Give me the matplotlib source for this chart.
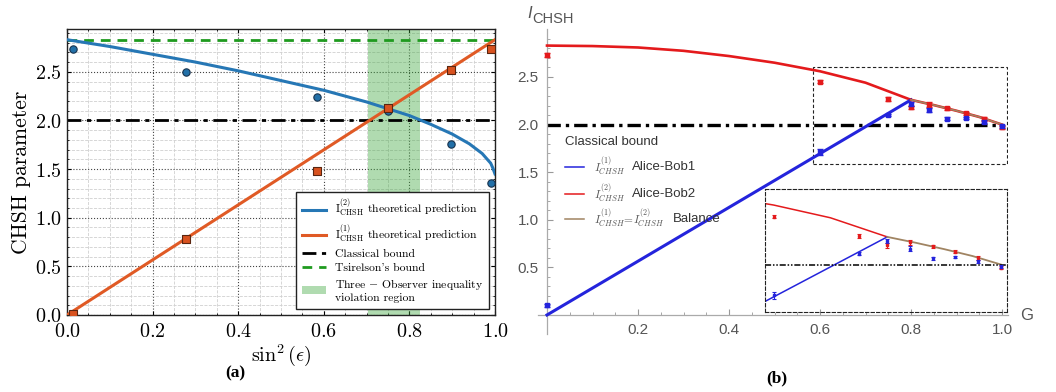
import matplotlib
matplotlib.use("Agg")
import matplotlib.pyplot as plt
from matplotlib.lines import Line2D
from matplotlib.patches import Rectangle
from matplotlib.ticker import FuncFormatter, MultipleLocator, FixedLocator

# ============= Data: panel (a) ===================

sin2_theory = [0, 0.1, 0.2, 0.3, 0.4, 0.5, 0.6, 0.7, 0.8, 0.85, 0.9, 0.94, 0.97, 0.99, 0.995, 1.0]
I2_theory = [2.83, 2.76, 2.68, 2.60, 2.51, 2.41, 2.31, 2.19, 2.05, 1.96, 1.86, 1.76, 1.66, 1.56, 1.51, 1.45]
sin2_line = [0, 1.0]
I1_theory = [0, 2.83]

sin2_meas = [0.013, 0.277, 0.585, 0.75, 0.898, 0.99]
I2_meas = [2.73, 2.50, 2.24, 2.10, 1.76, 1.36]
I1_meas = [0.01, 0.78, 1.48, 2.13, 2.52, 2.73]

classical = 2.0
tsirelson = 2.83
region = [0.704, 0.825]

# ============= Data: panel (b) ===================

G_red = [0, 0.1, 0.2, 0.3, 0.4, 0.5, 0.6, 0.7, 0.8]
I_red = [2.83, 2.825, 2.81, 2.775, 2.72, 2.65, 2.56, 2.44, 2.26]
G_blue = [0, 0.8]
I_blue = [0, 2.26]
G_bal = [0.8, 0.85, 0.9, 0.95, 1.0]
I_bal = [2.26, 2.205, 2.145, 2.08, 2.0]

G_pts = [0, 0.6, 0.75, 0.8, 0.84, 0.88, 0.92, 0.96, 1.0]
I1_pts = [0.10, 1.71, 2.10, 2.22, 2.15, 2.06, 2.07, 2.03, 1.98]
I1_err = [0.02, 0.03, 0.015, 0.02, 0.02, 0.015, 0.01, 0.015, 0.015]
I2_pts = [2.73, 2.45, 2.27, 2.18, 2.21, 2.17, 2.12, 2.06, 1.97]
I2_err = [0.02, 0.015, 0.02, 0.02, 0.025, 0.015, 0.015, 0.02, 0.015]

# ============= Style ===================

plt.rcParams['mathtext.fontset'] = 'cm'
plt.rcParams['axes.unicode_minus'] = False

W, H = 1056, 392
fig = plt.figure(figsize=(W / 100, H / 100), dpi=100)

def px(x0, y0, x1, y1):
    # pixel box (top-left origin) -> figure fraction rect
    return [x0 / W, 1 - y1 / H, (x1 - x0) / W, (y1 - y0) / H]

c_blue = '#2677b5'
c_orange = '#e05a25'
c_green = '#1f9a1f'

# ============= Panel (a) ===================

ax = fig.add_axes(px(67, 29, 495, 315))
ax.plot(sin2_theory, I2_theory, color=c_blue, lw=2.2, zorder=3,
        label=r'$\mathrm{I}^{(2)}_{\mathrm{CHSH}}$ theoretical prediction')
ax.plot(sin2_line, I1_theory, color=c_orange, lw=2.2, zorder=3,
        label=r'$\mathrm{I}^{(1)}_{\mathrm{CHSH}}$ theoretical prediction')
ax.axhline(classical, color='black', lw=2, ls=(0, (5, 2, 1.5, 2)), zorder=2,
           label='Classical bound')
ax.axhline(tsirelson, color=c_green, lw=2, ls=(0, (3.5, 2.5)), zorder=2,
           label="Tsirelson's bound")
ax.axvspan(region[0], region[1], color='#3aa63a', alpha=0.4, lw=0, zorder=1,
           label=r'Three $-$ Observer inequality' + '\nviolation region')
ax.scatter(sin2_meas, I2_meas, marker='o', s=28, color='#2270a8',
           edgecolor='#17324d', lw=0.8, zorder=4)
ax.scatter(sin2_meas, I1_meas, marker='s', s=28, color='#d8521f',
           edgecolor='#5a2510', lw=0.8, zorder=4)

ax.set_xlim(0, 1.0)
ax.set_ylim(0, 2.94)
ax.xaxis.set_major_locator(MultipleLocator(0.2))
ax.xaxis.set_minor_locator(MultipleLocator(0.05))
ax.yaxis.set_major_locator(MultipleLocator(0.5))
ax.yaxis.set_minor_locator(MultipleLocator(0.1))
fmt = FuncFormatter(lambda v, p: f'${v:.1f}$')
ax.xaxis.set_major_formatter(fmt)
ax.yaxis.set_major_formatter(fmt)
ax.tick_params(which='both', direction='in', top=True, right=True, labelsize=14.5)
ax.tick_params(which='major', length=3, width=0.8)
ax.tick_params(axis='x', pad=5)
ax.tick_params(which='minor', length=1.5, width=0.6)
ax.grid(which='major', color='#444444', ls=':', lw=0.8)
ax.grid(which='minor', color='#d0d0d0', ls='--', lw=0.6)
ax.set_axisbelow(True)
for s in ax.spines.values():
    s.set_linewidth(1.0)
    s.set_color('#222222')
ax.set_ylabel('CHSH parameter', family='cmr10', fontsize=15.5, labelpad=3)
ax.set_xlabel(r'$\sin^2(\epsilon)$', fontsize=14.5, labelpad=1)

leg = ax.legend(loc='lower right', prop={'family': 'cmr10', 'size': 8.4},
                fancybox=False, framealpha=1, edgecolor='#222222',
                handlelength=2.0, borderaxespad=0.5, labelspacing=0.33,
                borderpad=0.5)
leg.get_frame().set_linewidth(1.0)

fig.text(235 / W, 1 - 373 / H, '(a)', family='Liberation Serif', weight='bold',
         fontsize=12.5, ha='center', va='center')

# ============= Panel (b) ===================

gray = '#999999'
c_red = '#e41a1c'
c_dblue = '#2424dc'
c_bal = '#a08462'

# xlim [-0.02, 1.012], ylim [-0.2, 3.0]; G=0 at px 547, G=1 at 1002, I=0 at 315
bx = fig.add_axes(px(537.9, 29.4, 1007.5, 334.0))
bx.plot(G_red, I_red, color=c_red, lw=1.9, zorder=3)
bx.plot(G_blue, I_blue, color=c_dblue, lw=2.2, zorder=3)
bx.plot(G_bal, I_bal, color=c_red, lw=1.9, zorder=3)
bx.plot(G_bal, I_bal, color=c_bal, lw=1.2, zorder=3)
bx.plot([0, 1.0], [classical, classical], color='black', lw=2.4,
        ls=(0, (4, 1.5, 1, 1.5)), zorder=2)
bx.errorbar(G_pts, I2_pts, yerr=I2_err, fmt='s', ms=3.5, color=c_red,
            capsize=2.4, elinewidth=1, capthick=1, zorder=4)
bx.errorbar(G_pts, I1_pts, yerr=I1_err, fmt='s', ms=3.5, color=c_dblue,
            capsize=2.4, elinewidth=1, capthick=1, zorder=4)
bx.add_patch(Rectangle((0.584, 1.59), 1.01 - 0.584, 2.60 - 1.59, fill=False,
                       ec='#222222', lw=0.8, ls=(0, (3, 2)), zorder=1))

bx.set_xlim(-0.02, 1.012)
bx.set_ylim(-0.2, 3.0)
bx.spines['left'].set_position(('data', 0))
bx.spines['bottom'].set_position(('data', 0))
bx.spines['top'].set_visible(False)
bx.spines['right'].set_visible(False)
for s in ('left', 'bottom'):
    bx.spines[s].set_color('#aaaaaa')
    bx.spines[s].set_linewidth(0.9)
bx.xaxis.set_major_locator(FixedLocator([0.2, 0.4, 0.6, 0.8, 1.0]))
bx.xaxis.set_minor_locator(FixedLocator([i * 0.05 for i in range(1, 20)]))
bx.yaxis.set_major_locator(FixedLocator([0.5, 1.0, 1.5, 2.0, 2.5]))
bx.yaxis.set_minor_locator(FixedLocator([i * 0.1 for i in range(1, 30)]))
bx.xaxis.set_major_formatter(FuncFormatter(lambda v, p: f'{v:.1f}'))
bx.yaxis.set_major_formatter(FuncFormatter(lambda v, p: f'{v:.1f}'))
bx.tick_params(which='both', direction='in', color=gray, labelcolor='#555555',
               labelsize=11)
for t in bx.get_xticklabels() + bx.get_yticklabels():
    t.set_family('Liberation Sans')
bx.tick_params(which='major', length=4, width=0.8, pad=6)
bx.tick_params(which='minor', length=2, width=0.6)

fig.text(527 / W, 1 - 14 / H, 'I', family='Liberation Sans', style='italic',
         fontsize=12, color='#555555', va='center')
fig.text(532 / W, 1 - 19 / H, 'CHSH', family='Liberation Sans', fontsize=10.5,
         color='#555555', va='center')
fig.text(1027 / W, 1 - 315 / H, 'G', family='Liberation Sans', fontsize=12,
         color='#555555', ha='center', va='center')

# inset (zoom of the dashed region)
ins = bx.inset_axes([0.478, 0.03, 0.532, 1.29], transform=bx.transData)
ins.set_facecolor('none')
ins.plot(G_red, I_red, color=c_red, lw=1.1)
ins.plot(G_blue, I_blue, color=c_dblue, lw=1.1)
ins.plot(G_bal, I_bal, color=c_bal, lw=1.3)
ins.axhline(classical, color='black', lw=1.1, ls=(0, (4, 1.2, 1, 1.2, 1, 1.2)))
ins.errorbar(G_pts, I2_pts, yerr=I2_err, fmt='s', ms=2, color=c_red,
             capsize=1.5, elinewidth=0.8, capthick=0.8)
ins.errorbar(G_pts, I1_pts, yerr=I1_err, fmt='s', ms=2, color=c_dblue,
             capsize=1.5, elinewidth=0.8, capthick=0.8)
ins.set_xlim(0.584, 1.01)
ins.set_ylim(1.552, 2.708)
ins.set_xticks([])
ins.set_yticks([])
for s in ins.spines.values():
    s.set_linestyle((0, (3, 2)))
    s.set_linewidth(0.8)
    s.set_color('#222222')

# legend of panel (b)
fig.text(565 / W, 1 - 142 / H, 'Classical bound', family='Liberation Sans',
         fontsize=9.5, color='#333333', va='center')
rows = [
    (167, c_dblue, r'$I^{(1)}_{CHSH}$', 'Alice-Bob1', 632),
    (194, c_red, r'$I^{(2)}_{CHSH}$', 'Alice-Bob2', 632),
    (219, c_bal, r'$I^{(1)}_{CHSH}\!=\!I^{(2)}_{CHSH}$', 'Balance', 673),
]
for y, col, mlab, name, xn in rows:
    fig.add_artist(Line2D([565 / W, 584 / W], [1 - y / H, 1 - y / H],
                          color=col, lw=1.1))
    fig.text(594 / W, 1 - y / H, mlab, fontsize=8.2, color='#555555', va='center')
    fig.text(xn / W, 1 - y / H, name, family='Liberation Sans', fontsize=9.5,
             color='#333333', va='center')

fig.text(777 / W, 1 - 378 / H, '(b)', family='Liberation Serif', weight='bold',
         fontsize=12.5, ha='center', va='center')

fig.savefig('out.png', dpi=100)
